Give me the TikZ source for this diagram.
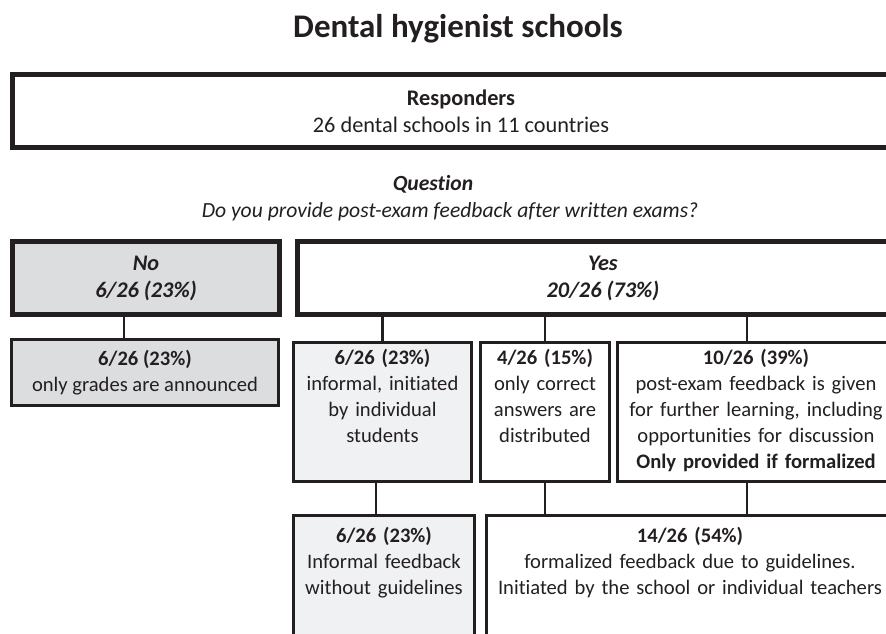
\documentclass[tikz,border=0pt]{standalone}
\usepackage{fontspec}
\setmainfont{Carlito}[Ligatures=NoCommon]
\usetikzlibrary{positioning}
\definecolor{edgecol}{HTML}{231F20}
\definecolor{nofill}{HTML}{DCDDDF}
\definecolor{infill}{HTML}{F0F1F3}

\begin{document}
\begin{tikzpicture}[
    x=1pt, y=-1pt,
    body/.style={font=\fontsize{20.6}{26}\selectfont, text=edgecol},
    head/.style={font=\fontsize{22.3}{27}\selectfont, text=edgecol},
    bigbox/.style={head, draw=edgecol, line width=5pt, align=center, inner sep=0pt},
    subbox/.style={body, draw=edgecol, line width=3pt, align=center, inner sep=0pt},
    topbox/.style={subbox, anchor=north, inner ysep=8.5pt, text height=14pt},
    lowbox/.style={topbox, text height=19pt},
    link/.style={draw=edgecol, line width=2.5pt}
  ]
  \useasboundingbox (0,0) rectangle (886,633);
  \clip (0,0) rectangle (886,633);

  % Title and question
  \node[anchor=base, text=edgecol, font=\fontsize{33}{40}\selectfont\bfseries] (title) at (458,37.5)
    {Dental hygienist schools};
  \node[bigbox] (resp) at (461,111) [minimum width=897, minimum height=73]
    {\textbf{Responders}\\26 dental schools in 11 countries};
  \node[head, font=\fontsize{21.6}{27}\selectfont, align=center] (quest) at (450,198.5)
    {\textbf{\textit{Question}}\hspace*{34pt}\\\textit{Do you provide post-exam feedback after written exams?}};

  % No / Yes
  \node[bigbox, fill=nofill] (no) at (146,278) [minimum width=267, minimum height=73]
    {\textbf{\textit{No}}\\\textbf{\textit{6/26 (23\%)}}};
  \node[bigbox] (yes) at (603,278) [minimum width=611, minimum height=73]
    {\textbf{\textit{Yes}}\\\textbf{\textit{20/26 (73\%)}}};

  % Second level
  \node[subbox, fill=nofill] (grades) at (145,372.5) [minimum width=267, minimum height=66]
    {\textbf{6/26 (23\%)}\\only grades are announced};
  \node[topbox, fill=infill, text width=178, text depth=108] (infml) at (382.5,340.5)
    {\textbf{6/26 (23\%)}\\informal, initiated\\by individual\\students};
  \node[topbox, text width=129, text depth=108] (corr) at (545,340.5)
    {\textbf{4/26 (15\%)}\\only correct\\answers are\\distributed};
  \node[topbox, text width=277, text depth=108] (learn) at (756,340.5)
    {\textbf{10/26 (39\%)}\\post-exam feedback is given\\for further learning, including\\opportunities for discussion\\\textbf{Only provided if formalized}};

  % Third level
  \node[lowbox, fill=infill, text width=181, text depth=150] (noguide) at (384,513.5)
    {\textbf{6/26 (23\%)}\\Informal feedback\\without guidelines};
  \node[lowbox, text width=407, text depth=150] (guide) at (690,513.5)
    {\textbf{14/26 (54\%)}\\formalized feedback due to guidelines.\\Initiated by the school or individual teachers};

  % Connectors
  \coordinate (notop) at ([xshift=-21pt]grades.north);
  \coordinate (ltop) at ([xshift=-9pt]learn.north);
  \coordinate (ibot) at ([xshift=-6.5pt]infml.south);
  \coordinate (lbot) at ([xshift=-9pt]learn.south);
  \draw[link] (notop |- no.south) -- (notop);
  \draw[link] (infml.north |- yes.south) -- (infml.north);
  \draw[link] (corr.north |- yes.south) -- (corr.north);
  \draw[link] (ltop |- yes.south) -- (ltop);
  \draw[link] (ibot) -- (ibot |- noguide.north);
  \draw[link] (corr.south) -- (corr.south |- guide.north);
  \draw[link] (lbot) -- (lbot |- guide.north);
\end{tikzpicture}
\end{document}
